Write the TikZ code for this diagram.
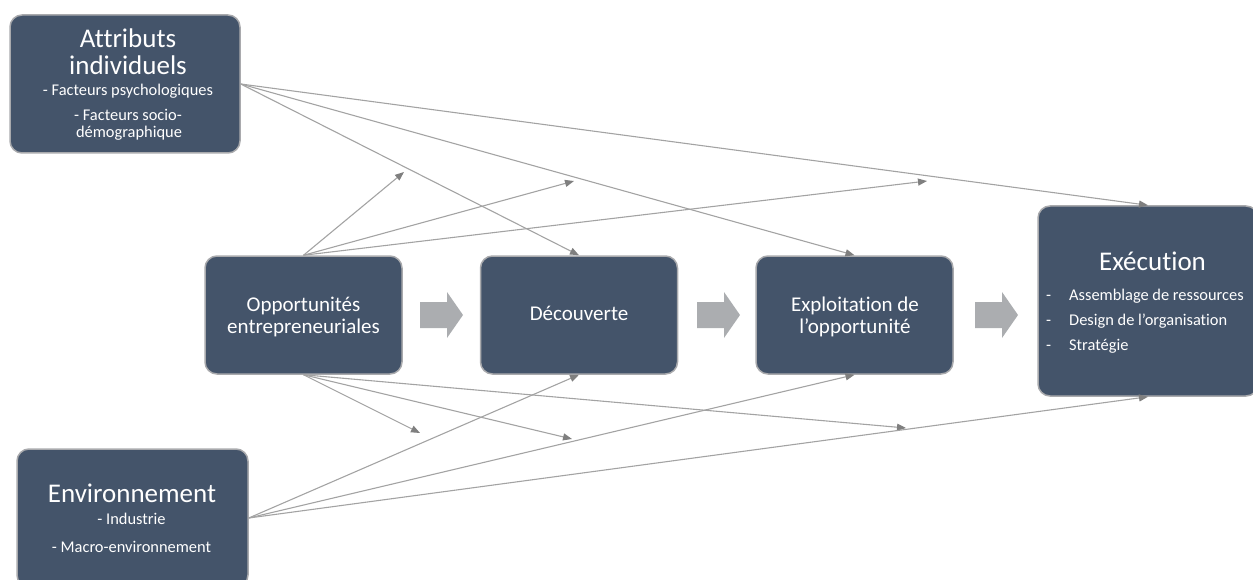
\documentclass[tikz,border=0pt]{standalone}
\usepackage{fontspec}
\setmainfont{Carlito}[Ligatures={NoCommon}]
\usetikzlibrary{arrows.meta}
\definecolor{boxfill}{HTML}{44546A}
\definecolor{boxline}{HTML}{A9AAAD}
\definecolor{linegray}{HTML}{A3A3A3}
\definecolor{tipgray}{HTML}{7F7F7F}
\definecolor{blockgray}{HTML}{ABADB0}
\begin{document}
\begin{tikzpicture}[x=1pt,y=-1pt,
  box/.style={draw=boxline, line width=1.5pt, fill=boxfill, rounded corners=12pt, inner sep=0pt},
  txt/.style={text=white, anchor=base, inner sep=0pt},
  big/.style={font=\fontsize{27}{30}\selectfont},
  mid/.style={font=\fontsize{21}{24}\selectfont},
  small/.style={font=\fontsize{16.4}{19}\selectfont},
  link/.style={draw=linegray, line width=1.1pt, -{Triangle[length=9pt,width=7pt,color=tipgray]}},
  blockarrow/.pic={\fill[blockgray] (0,-13) -- (27,-13) -- (27,-23) -- (43,0) -- (27,23) -- (27,13) -- (0,13) -- cycle;}
]
\useasboundingbox (0,0) rectangle (1253,580);
\clip (0,0) rectangle (1253,580);

% boxes
\node[box, minimum width=230pt, minimum height=138pt] (attr) at (125,84) {};
\node[box, minimum width=231pt, minimum height=138pt] (env) at (132.5,518) {};
\node[box, minimum width=197pt, minimum height=118pt] (opp) at (303.5,315) {};
\node[box, minimum width=197pt, minimum height=118pt] (dec) at (579,315) {};
\node[box, minimum width=197pt, minimum height=118pt] (expl) at (854.5,315) {};
\node[box, minimum width=220pt, minimum height=190pt] (exe) at (1148,301) {};

% block arrows
\pic at (420,315) {blockarrow};
\pic at (697,315) {blockarrow};
\pic at (975,315) {blockarrow};

% texts
\node[txt, big] (attr-t1) at (128,48) {Attributs};
\node[txt, big] (attr-t2) at (128,75) {individuels};
\node[txt, small] (attr-t3) at (128,96) {- Facteurs psychologiques};
\node[txt, small] (attr-t4) at (128,121) {- Facteurs socio-};
\node[txt, small] (attr-t5) at (129,138) {démographique};

\node[txt, big] (env-t1) at (132,502) {Environnement};
\node[txt, small] (env-t2) at (131.5,524) {- Industrie};
\node[txt, small] (env-t3) at (131.5,552) {- Macro-environnement};

\node[txt, mid] (opp-t1) at (303.5,311) {Opportunités};
\node[txt, mid] (opp-t2) at (303.5,333) {entrepreneuriales};

\node[txt, mid] (dec-t1) at (579,320) {Découverte};

\node[txt, mid] (expl-t1) at (855,311) {Exploitation de};
\node[txt, mid] (expl-t2) at (855,333) {l’opportunité};

\node[txt, big] (exe-t1) at (1152.5,270) {Exécution};
\node[txt, small, anchor=base west] (exe-d1) at (1046,300) {-};
\node[txt, small, anchor=base west] (exe-b1) at (1069,300) {Assemblage de ressources};
\node[txt, small, anchor=base west] (exe-d2) at (1046,325) {-};
\node[txt, small, anchor=base west] (exe-b2) at (1069,325) {Design de l’organisation};
\node[txt, small, anchor=base west] (exe-d3) at (1046,350) {-};
\node[txt, small, anchor=base west] (exe-b3) at (1069,350) {Stratégie};

% moderator target points
\coordinate (m1) at (404,172);
\coordinate (m2) at (574,181);
\coordinate (m3) at (927,181);
\coordinate (m4) at (420,433);
\coordinate (m5) at (572,439);
\coordinate (m6) at (906,428);

% connectors
\draw[link] (attr.east) -- (dec.north);
\draw[link] (attr.east) -- (expl.north);
\draw[link] (attr.east) -- (exe.north);
\draw[link] (opp.north) -- (m1);
\draw[link] (opp.north) -- (m2);
\draw[link] (opp.north) -- (m3);
\draw[link] (opp.south) -- (m4);
\draw[link] (opp.south) -- (m5);
\draw[link] (opp.south) -- (m6);
\draw[link] (env.east) -- (dec.south);
\draw[link] (env.east) -- (expl.south);
\draw[link] (env.east) -- (exe.south);
\end{tikzpicture}
\end{document}
